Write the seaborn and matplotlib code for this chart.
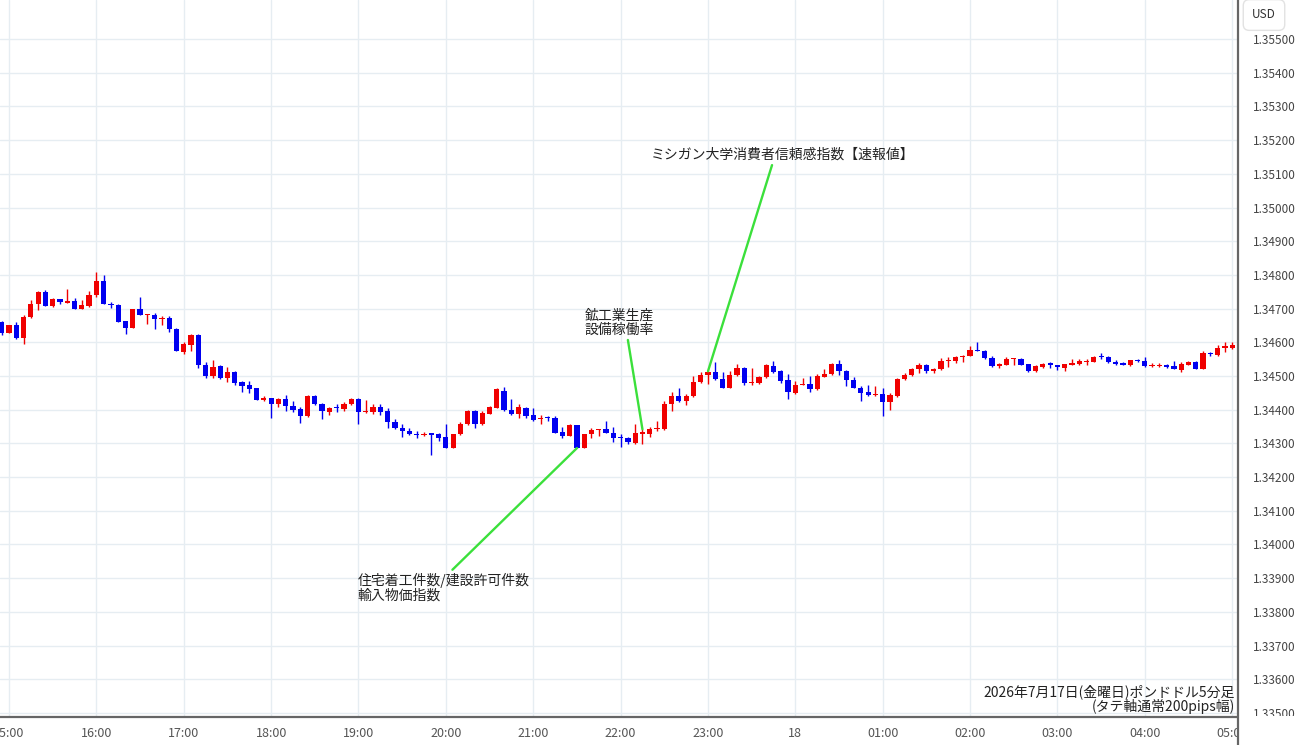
import numpy as np
import pandas as pd
import matplotlib
matplotlib.use('Agg')
import matplotlib.pyplot as plt
from matplotlib.lines import Line2D
from matplotlib.patches import Rectangle
import seaborn as sns

# GBP/USD 5-minute candles, 2026-07-17 14:55 -> 07-18 05:05
start_time = "2026-07-17 14:55"

open_ = [
    1.34660, 1.34629, 1.34652, 1.34613, 1.34674, 1.34713, 1.34749, 1.34709, 1.34728, 1.34718, 1.34723, 1.34700,
    1.34709, 1.34739, 1.34782, 1.34713, 1.34711, 1.34662, 1.34644, 1.34699, 1.34680, 1.34682, 1.34670, 1.34672,
    1.34640, 1.34571, 1.34593, 1.34623, 1.34534, 1.34500, 1.34529, 1.34493, 1.34512, 1.34483, 1.34473, 1.34463,
    1.34428, 1.34436, 1.34418, 1.34431, 1.34411, 1.34403, 1.34381, 1.34440, 1.34416, 1.34394, 1.34406, 1.34401,
    1.34416, 1.34433, 1.34393, 1.34394, 1.34409, 1.34396, 1.34365, 1.34347, 1.34337, 1.34329, 1.34325, 1.34329,
    1.34327, 1.34319, 1.34286, 1.34327, 1.34357, 1.34396, 1.34359, 1.34388, 1.34406, 1.34457, 1.34399, 1.34386,
    1.34406, 1.34384, 1.34373, 1.34378, 1.34376, 1.34335, 1.34322, 1.34354, 1.34286, 1.34327, 1.34339, 1.34344,
    1.34332, 1.34317, 1.34315, 1.34301, 1.34329, 1.34329, 1.34342, 1.34342, 1.34418, 1.34440, 1.34426, 1.34440,
    1.34483, 1.34503, 1.34512, 1.34490, 1.34465, 1.34502, 1.34524, 1.34480, 1.34480, 1.34497, 1.34529, 1.34514,
    1.34488, 1.34450, 1.34473, 1.34477, 1.34460, 1.34498, 1.34505, 1.34536, 1.34516, 1.34487, 1.34465, 1.34452,
    1.34443, 1.34447, 1.34424, 1.34442, 1.34490, 1.34502, 1.34522, 1.34534, 1.34514, 1.34521, 1.34544, 1.34546,
    1.34556, 1.34559, 1.34578, 1.34575, 1.34554, 1.34529, 1.34534, 1.34551, 1.34552, 1.34536, 1.34514, 1.34526,
    1.34536, 1.34534, 1.34524, 1.34534, 1.34537, 1.34541, 1.34542, 1.34559, 1.34556, 1.34542, 1.34538, 1.34532,
    1.34546, 1.34544, 1.34529, 1.34529, 1.34531, 1.34529, 1.34519, 1.34534, 1.34542, 1.34522, 1.34569, 1.34562,
    1.34583, 1.34583, 1.34593,
]
high = [
    1.34662, 1.34652, 1.34660, 1.34680, 1.34726, 1.34751, 1.34756, 1.34731, 1.34728, 1.34759, 1.34733, 1.34726,
    1.34753, 1.34810, 1.34800, 1.34721, 1.34713, 1.34664, 1.34699, 1.34734, 1.34684, 1.34687, 1.34677, 1.34677,
    1.34642, 1.34601, 1.34625, 1.34625, 1.34542, 1.34549, 1.34532, 1.34526, 1.34514, 1.34485, 1.34485, 1.34465,
    1.34440, 1.34436, 1.34436, 1.34445, 1.34426, 1.34408, 1.34443, 1.34443, 1.34421, 1.34408, 1.34416, 1.34424,
    1.34436, 1.34436, 1.34428, 1.34416, 1.34418, 1.34406, 1.34373, 1.34357, 1.34345, 1.34337, 1.34335, 1.34329,
    1.34332, 1.34357, 1.34327, 1.34365, 1.34398, 1.34398, 1.34396, 1.34411, 1.34463, 1.34468, 1.34431, 1.34418,
    1.34408, 1.34404, 1.34384, 1.34381, 1.34381, 1.34349, 1.34359, 1.34355, 1.34329, 1.34347, 1.34342, 1.34367,
    1.34349, 1.34329, 1.34319, 1.34357, 1.34342, 1.34349, 1.34367, 1.34426, 1.34453, 1.34465, 1.34447, 1.34500,
    1.34512, 1.34514, 1.34542, 1.34512, 1.34514, 1.34536, 1.34526, 1.34524, 1.34500, 1.34536, 1.34546, 1.34519,
    1.34505, 1.34485, 1.34495, 1.34500, 1.34505, 1.34522, 1.34539, 1.34549, 1.34519, 1.34497, 1.34470, 1.34472,
    1.34470, 1.34463, 1.34450, 1.34493, 1.34509, 1.34524, 1.34538, 1.34536, 1.34524, 1.34554, 1.34556, 1.34559,
    1.34562, 1.34588, 1.34601, 1.34578, 1.34559, 1.34539, 1.34556, 1.34554, 1.34554, 1.34536, 1.34534, 1.34538,
    1.34542, 1.34534, 1.34536, 1.34552, 1.34552, 1.34552, 1.34559, 1.34569, 1.34559, 1.34547, 1.34542, 1.34549,
    1.34552, 1.34556, 1.34539, 1.34539, 1.34536, 1.34546, 1.34542, 1.34544, 1.34544, 1.34573, 1.34572, 1.34593,
    1.34601, 1.34601, 1.34598,
]
low = [
    1.34623, 1.34628, 1.34611, 1.34595, 1.34672, 1.34697, 1.34709, 1.34706, 1.34713, 1.34716, 1.34700, 1.34699,
    1.34706, 1.34736, 1.34713, 1.34703, 1.34660, 1.34626, 1.34642, 1.34680, 1.34655, 1.34639, 1.34650, 1.34630,
    1.34573, 1.34564, 1.34573, 1.34524, 1.34495, 1.34493, 1.34490, 1.34483, 1.34473, 1.34453, 1.34450, 1.34428,
    1.34426, 1.34374, 1.34408, 1.34396, 1.34393, 1.34362, 1.34379, 1.34414, 1.34372, 1.34384, 1.34394, 1.34396,
    1.34414, 1.34359, 1.34391, 1.34388, 1.34384, 1.34347, 1.34342, 1.34319, 1.34325, 1.34317, 1.34322, 1.34266,
    1.34306, 1.34285, 1.34285, 1.34325, 1.34355, 1.34345, 1.34355, 1.34386, 1.34404, 1.34396, 1.34384, 1.34374,
    1.34376, 1.34367, 1.34357, 1.34367, 1.34332, 1.34317, 1.34321, 1.34285, 1.34285, 1.34317, 1.34322, 1.34332,
    1.34303, 1.34288, 1.34298, 1.34298, 1.34298, 1.34319, 1.34337, 1.34339, 1.34396, 1.34424, 1.34414, 1.34439,
    1.34480, 1.34477, 1.34488, 1.34463, 1.34463, 1.34500, 1.34473, 1.34473, 1.34477, 1.34495, 1.34509, 1.34480,
    1.34431, 1.34447, 1.34472, 1.34453, 1.34459, 1.34497, 1.34503, 1.34503, 1.34470, 1.34463, 1.34426, 1.34442,
    1.34442, 1.34380, 1.34398, 1.34438, 1.34487, 1.34500, 1.34509, 1.34509, 1.34509, 1.34519, 1.34526, 1.34539,
    1.34542, 1.34558, 1.34574, 1.34552, 1.34528, 1.34524, 1.34533, 1.34534, 1.34533, 1.34513, 1.34512, 1.34524,
    1.34524, 1.34519, 1.34516, 1.34533, 1.34534, 1.34534, 1.34541, 1.34552, 1.34539, 1.34532, 1.34532, 1.34529,
    1.34542, 1.34528, 1.34528, 1.34528, 1.34524, 1.34521, 1.34512, 1.34532, 1.34521, 1.34521, 1.34559, 1.34559,
    1.34571, 1.34581, 1.34568,
]
close = [
    1.34628, 1.34652, 1.34613, 1.34676, 1.34713, 1.34748, 1.34709, 1.34729, 1.34721, 1.34721, 1.34700, 1.34711,
    1.34741, 1.34782, 1.34713, 1.34711, 1.34660, 1.34642, 1.34699, 1.34680, 1.34682, 1.34669, 1.34672, 1.34640,
    1.34573, 1.34595, 1.34623, 1.34532, 1.34500, 1.34526, 1.34493, 1.34512, 1.34480, 1.34470, 1.34460, 1.34429,
    1.34434, 1.34418, 1.34431, 1.34411, 1.34399, 1.34381, 1.34440, 1.34416, 1.34396, 1.34406, 1.34404, 1.34418,
    1.34431, 1.34393, 1.34396, 1.34408, 1.34394, 1.34365, 1.34345, 1.34337, 1.34327, 1.34325, 1.34329, 1.34326,
    1.34317, 1.34286, 1.34327, 1.34357, 1.34396, 1.34359, 1.34391, 1.34408, 1.34460, 1.34398, 1.34386, 1.34408,
    1.34381, 1.34369, 1.34376, 1.34374, 1.34332, 1.34322, 1.34355, 1.34286, 1.34327, 1.34339, 1.34342, 1.34332,
    1.34317, 1.34315, 1.34303, 1.34332, 1.34334, 1.34342, 1.34345, 1.34418, 1.34440, 1.34426, 1.34440, 1.34483,
    1.34503, 1.34512, 1.34490, 1.34465, 1.34502, 1.34524, 1.34480, 1.34483, 1.34497, 1.34532, 1.34512, 1.34485,
    1.34453, 1.34473, 1.34477, 1.34460, 1.34500, 1.34505, 1.34536, 1.34514, 1.34487, 1.34465, 1.34450, 1.34443,
    1.34447, 1.34424, 1.34443, 1.34490, 1.34503, 1.34522, 1.34534, 1.34514, 1.34521, 1.34544, 1.34549, 1.34556,
    1.34559, 1.34578, 1.34575, 1.34554, 1.34529, 1.34536, 1.34552, 1.34554, 1.34534, 1.34514, 1.34529, 1.34536,
    1.34534, 1.34526, 1.34536, 1.34537, 1.34544, 1.34544, 1.34556, 1.34556, 1.34542, 1.34536, 1.34534, 1.34548,
    1.34544, 1.34529, 1.34531, 1.34531, 1.34528, 1.34522, 1.34536, 1.34542, 1.34522, 1.34568, 1.34564, 1.34583,
    1.34588, 1.34593, 1.34571,
]

# event annotations: (label, candle index, price the line touches)
events = [
    ("住宅着工件数/建設許可件数\n輸入物価指数", 79, close[79]),
    ("鉱工業生産\n設備稼働率", 88, high[88]),
    ("ミシガン大学消費者信頼感指数【速報値】", 97, high[97]),
]
title_text = "2026年7月17日(金曜日)ポンドドル5分足\n(タテ軸通常200pips幅)"

sns.set_theme(style="whitegrid")
plt.rcParams['font.family'] = ['Noto Sans CJK JP', 'DejaVu Sans']
plt.rcParams['axes.unicode_minus'] = False

df = pd.DataFrame({"open": open_, "high": high, "low": low, "close": close})
df["time"] = pd.date_range(start_time, periods=len(df), freq="5min")
df["x"] = np.arange(len(df))
up = df["close"] >= df["open"]
colors = np.where(up, "#f00000", "#0000f0")

W, H = 1300, 745
fig = plt.figure(figsize=(13, 7.45), dpi=100, facecolor="white")
ax = fig.add_axes([0, 1 - 717 / H, 1238 / W, 717 / H])
ax.set_facecolor("white")

# wicks and bodies
ax.vlines(df["x"], df["low"], df["high"], colors=colors, lw=1.0, zorder=3)
body = (df["close"] - df["open"]).abs().clip(lower=0.000035)
bottom = df[["open", "close"]].min(axis=1)
ax.bar(df["x"], body, bottom=bottom, width=0.72, color=colors, linewidth=0, zorder=4)

ax.set_xlim(-0.24, 169.8)
ax.set_ylim(1.33488, 1.35616)

hour_idx = df.index[df["time"].dt.minute == 0]
hour_lbl = [t.strftime("%H:%M") if t.hour != 0 else str(t.day) for t in df.loc[hour_idx, "time"]]
ax.set_xticks(df.loc[hour_idx, "x"])
ax.set_xticklabels(hour_lbl)
yt = np.round(np.arange(1.335, 1.3555, 0.001), 3)
ax.set_yticks(yt)
ax.set_yticklabels([f"{v:.5f}" for v in yt])
ax.yaxis.tick_right()
ax.tick_params(axis="x", length=0, pad=7, labelsize=9, labelcolor="#555555")
ax.tick_params(axis="y", length=0, pad=11, labelsize=8.5, labelcolor="#444444")
ax.grid(True, color="#e6edf2", lw=1.0)
for s in ["top", "left", "right"]:
    ax.spines[s].set_visible(False)
ax.spines["bottom"].set_color("#666666")
ax.spines["bottom"].set_linewidth(1.6)

# annotations with green leader lines
text_pos = [(48.9, 1.33871), (80.1, 1.34658), (89.1, 1.35156)]
line_start = [(61.9, 1.33925), (86.0, 1.34607), (105.8, 1.35126)]
for (label, xi, yp), (tx, ty), (lx, ly) in zip(events, text_pos, line_start):
    ax.text(tx, ty, label, ha="left", va="center", fontsize=10, color="#222222",
            linespacing=1.0, zorder=6)
    ax.plot([lx, xi], [ly, yp], color="#3be03b", lw=1.7, zorder=5, solid_capstyle="round")

ax.text(0.9975, 0.004, title_text, transform=ax.transAxes, ha="right", va="bottom",
        multialignment="right", fontsize=10, color="#222222", linespacing=1.0, zorder=6)

# right price panel: cover clipped time label, draw separator and USD badge
fig.patches.append(Rectangle((1239 / W, 0), 1 - 1239 / W, 1 - 717 / H + 0.001,
                             transform=fig.transFigure, facecolor="white", edgecolor="none", zorder=5))
fig.lines.append(Line2D([1238 / W, 1238 / W], [0, 1], transform=fig.transFigure,
                        color="#666666", lw=1.6, zorder=6))
fig.text(1264 / W, 1 - 15 / H, "USD", ha="center", va="center", fontsize=8.5, color="#333333",
         bbox=dict(boxstyle="round,pad=0.75,rounding_size=0.5", facecolor="white",
                   edgecolor="#e2e2e2", lw=1.0), zorder=7)

fig.savefig("out.png", dpi=100, facecolor="white")
